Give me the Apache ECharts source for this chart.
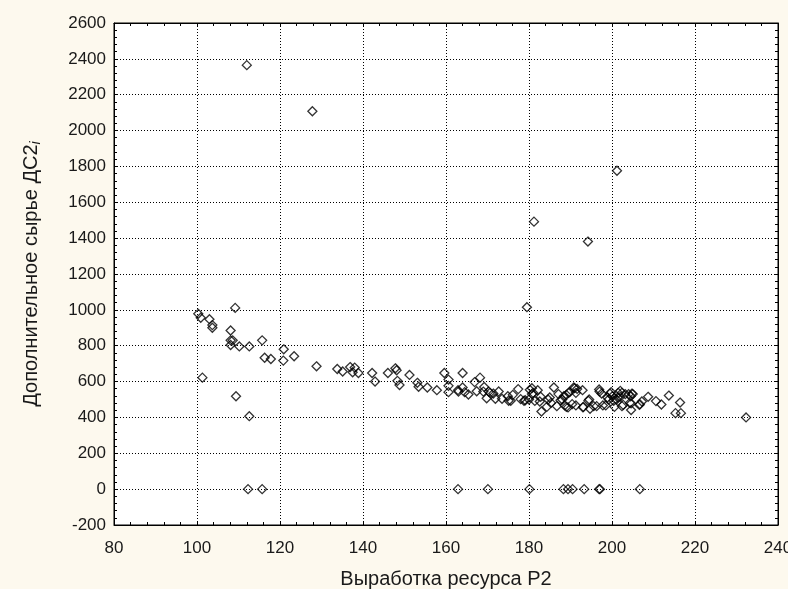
<!DOCTYPE html>
<html>
<head>
<meta charset="utf-8">
<title>Дополнительное сырье ДС2</title>
<script src="https://cdn.jsdelivr.net/npm/echarts@6.0.0/dist/echarts.min.js"></script>
<style>
  html, body { margin: 0; padding: 0; background: #fdf9ee; }
  #chart { width: 788px; height: 589px; }
</style>
</head>
<body>
<div id="chart"></div>
<script>
(function(){
  'use strict';

  // main band of observations
  const bandX = [
    100.3, 100.9, 101.3, 103.0, 103.7, 103.7, 108.1, 108.1, 108.6, 108.1, 109.2, 109.4, 110.2, 112.6, 112.6,
    115.7, 116.3, 117.8, 120.9, 120.8, 123.4, 128.8, 133.8, 135.1, 136.9, 137.5, 138.0, 138.9, 142.2, 142.9,
    146.0, 147.8, 148.1, 148.3, 148.8, 151.2, 153.1, 153.4, 155.5, 157.8, 159.6, 160.6, 160.6, 160.6, 162.9,
    163.0, 164.0, 164.0, 164.5, 165.4, 166.9, 168.2, 167.4, 169.0, 169.2, 169.8, 170.3, 170.6, 171.4, 171.9,
    172.7, 173.5, 174.9, 175.1, 175.6, 176.1, 177.4, 178.0, 178.8, 179.1, 180.0, 180.2, 180.7, 180.7, 181.0,
    181.4, 182.1, 183.0, 182.6, 182.8, 184.3, 184.6, 185.0, 185.3, 186.0, 186.7, 187.1, 187.6, 188.0, 188.4,
    188.6, 189.0, 189.0, 189.4, 189.5, 189.8, 190.4, 190.8, 191.0, 191.3, 191.3, 191.6, 192.9, 193.0, 193.1,
    194.3, 194.5, 194.7, 195.6, 196.3, 196.9, 197.0, 197.5, 197.8, 198.5, 198.9, 199.2, 199.5, 199.8, 200.1,
    200.4, 200.6, 201.1, 201.4, 201.5, 202.0, 202.0, 202.4, 202.4, 202.7, 203.2, 204.0, 204.3, 204.5, 204.6,
    204.6, 204.8, 205.0, 206.6, 206.7, 207.2, 208.7, 210.6, 211.9, 213.7, 215.3, 216.4, 216.6, 232.3
  ];
  const bandY = [
    978, 956, 622, 948, 915, 900, 885, 830, 830, 804, 1011, 518, 796, 796, 407,
    830, 733, 726, 780, 717, 741, 685, 670, 656, 681, 652, 678, 648, 648, 600,
    648, 674, 663, 604, 581, 637, 593, 571, 567, 552, 648, 611, 576, 541, 552,
    544, 648, 567, 541, 528, 597, 622, 546, 544, 570, 507, 544, 537, 533, 504,
    545, 504, 518, 493, 493, 526, 558, 502, 493, 496, 500, 554, 563, 530, 537,
    492, 552, 433, 489, 515, 459, 500, 511, 481, 567, 463, 530, 496, 500, 518,
    467, 526, 459, 456, 537, 541, 474, 567, 563, 467, 537, 559, 552, 456, 459,
    493, 500, 448, 463, 463, 556, 544, 533, 467, 467, 511, 500, 533, 541, 518,
    493, 459, 500, 511, 537, 548, 515, 463, 537, 470, 530, 530, 481, 518, 478,
    441, 533, 530, 470, 474, 489, 515, 491, 472, 522, 424, 483, 424, 400
  ];

  // high values
  const highX = [112.0, 127.8, 201.2, 181.2, 194.2, 179.5];
  const highY = [2365, 2108, 1776, 1492, 1381, 1015];

  // zero values
  const zeroX = [112.3, 115.7, 162.9, 170.1, 180.1, 188.3, 189.4, 190.5, 193.3, 196.9, 197.1, 206.7];

  const xTicks = { min: 80, max: 240, step: 20 };
  const yTicks = { min: -200, max: 2600, step: 200 };

  const points = [];
  bandX.forEach((x, i) => points.push([x, bandY[i]]));
  highX.forEach((x, i) => points.push([x, highY[i]]));
  zeroX.forEach((x) => points.push([x, 0]));

  const FONT = '"Liberation Sans", Arial, sans-serif';
  const black = '#000';
  const textColor = '#1a1a1a';

  function axisBase(extra){
    return Object.assign({
      type: 'value',
      axisLine: { show: true, onZero: false, lineStyle: { color: black, width: 1 } },
      axisTick: { show: true, inside: true, length: 4, lineStyle: { color: black } },
      minorTick: { show: true, splitNumber: 5, length: 3, lineStyle: { color: black } },
      splitLine: { show: false },
      axisLabel: { show: false }
    }, extra);
  }

  const chart = echarts.init(document.getElementById('chart'), null, { renderer: 'canvas' });
  chart.setOption({
    backgroundColor: '#fdf9ee',
    animation: false,
    grid: {
      left: 114, right: 10, top: 23, bottom: 64,
      containLabel: false, outerBoundsMode: 'none',
      show: true, backgroundColor: '#fff', borderColor: black, borderWidth: 1
    },
    xAxis: [
      axisBase({
        position: 'bottom',
        min: xTicks.min, max: xTicks.max, interval: xTicks.step,
        splitLine: { show: true, lineStyle: { color: black, type: [1, 2], width: 1 } },
        axisLabel: { show: true, color: textColor, fontSize: 17, fontFamily: FONT, margin: 15, formatter: (v) => String(v) },
        name: 'Выработка ресурса Р2',
        nameLocation: 'middle',
        nameGap: 44,
        nameTextStyle: { color: textColor, fontSize: 20, fontFamily: FONT }
      }),
      axisBase({ position: 'top', min: xTicks.min, max: xTicks.max, interval: xTicks.step })
    ],
    yAxis: [
      axisBase({
        position: 'left',
        min: yTicks.min, max: yTicks.max, interval: yTicks.step,
        splitLine: { show: true, lineStyle: { color: black, type: [1, 2], width: 1 } },
        axisLabel: { show: true, color: textColor, fontSize: 17, fontFamily: FONT, margin: 8, formatter: (v) => String(v) },
        name: '{a|Дополнительное сырье ДС2}{s|i}',
        nameLocation: 'middle',
        nameGap: 71,
        nameRotate: 90,
        nameTextStyle: {
          color: textColor, fontFamily: FONT, fontSize: 20,
          rich: {
            a: { fontSize: 20, fontFamily: FONT, color: textColor, lineHeight: 24 },
            s: { fontSize: 14, fontFamily: FONT, color: textColor, fontStyle: 'italic', lineHeight: 24, verticalAlign: 'bottom' }
          }
        }
      }),
      axisBase({ position: 'right', min: yTicks.min, max: yTicks.max, interval: yTicks.step })
    ],
    series: [{
      type: 'scatter',
      xAxisIndex: 0,
      yAxisIndex: 0,
      data: points,
      symbol: 'diamond',
      symbolSize: 9,
      itemStyle: { color: 'rgba(0,0,0,0)', borderColor: black, borderWidth: 1.3 },
      emphasis: { disabled: true }
    }]
  });
})();
</script>
</body>
</html>
